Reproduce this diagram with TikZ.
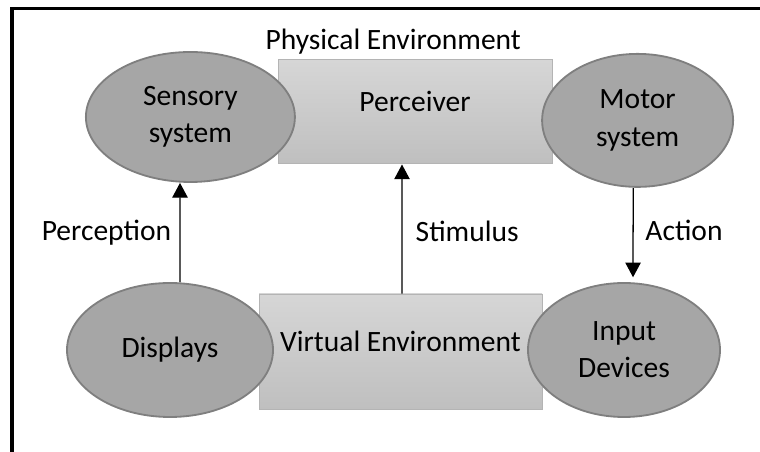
\documentclass[tikz,border=0pt]{standalone}
\usepackage{fontspec}
\setmainfont{Carlito}
\usepackage{tikz}
\usetikzlibrary{shapes.geometric,arrows.meta,positioning,calc}

\definecolor{ovalfill}{HTML}{A6A6A6}
\definecolor{ovalline}{HTML}{7F7F7F}
\definecolor{boxtop}{HTML}{D6D6D6}
\definecolor{boxbot}{HTML}{BFBFBF}
\definecolor{boxline}{HTML}{B4B4B4}

\begin{document}
\begin{tikzpicture}[font=\fontsize{21}{26.5}\selectfont,
  oval/.style={ellipse,draw=ovalline,line width=1.3pt,fill=ovalfill,align=center,inner sep=0pt},
  envbox/.style={rectangle,draw=boxline,line width=0.7pt,top color=boxtop,bottom color=boxbot,inner sep=0pt},
  arr/.style={line width=0.9pt,-{Triangle[length=10.5pt,width=11pt]}}]
  \useasboundingbox (0,0) rectangle (19,11.3);
  % frame
  \draw[line width=2.5pt] (0.3,0) -- (0.3,11.0875) -- (19,11.0875);
  % environments
  \node[envbox,minimum width=6.85cm,minimum height=2.6cm] (perc) at (10.375,8.5) {};
  \node (percT) at ([yshift=-1.05cm]perc.north) {Perceiver};
  \node[envbox,minimum width=7.075cm,minimum height=2.875cm] (venv) at (10.0125,2.5125) {};
  \node (venvT) at ([yshift=-1.2cm]venv.north) {Virtual Environment};
  % systems
  \node[oval,minimum width=5.225cm,minimum height=3.25cm] (sens) at (4.76,8.375) {Sensory\\system};
  \node[oval,minimum width=4.775cm,minimum height=3.325cm] (motor) at (15.94,8.29) {Motor\\system};
  \node[oval,minimum width=5.15cm,minimum height=3.35cm] (disp) at (4.25,2.55) {Displays};
  \node[oval,minimum width=4.8cm,minimum height=3.35cm] (input) at (15.6,2.55) {Input\\Devices};
  % connectors
  \draw[arr] ([xshift=0.25cm]disp.north) -- ([xshift=-0.26cm]sens.south);
  \draw[arr] ([xshift=0.0375cm]venv.north) -- ([xshift=-0.325cm]perc.south);
  \draw[arr,shorten >=0.12cm] ([xshift=-0.11cm]motor.south) -- ([xshift=0.225cm]input.north);
  % labels
  \node (physT) at (9.83,10.25) {Physical Environment};
  \node (percL) at (2.66,5.49) {Perception};
  \node (stimL) at (11.68,5.525) {Stimulus};
  \node (actL) at (17.1,5.55) {Action};
\end{tikzpicture}
\end{document}
